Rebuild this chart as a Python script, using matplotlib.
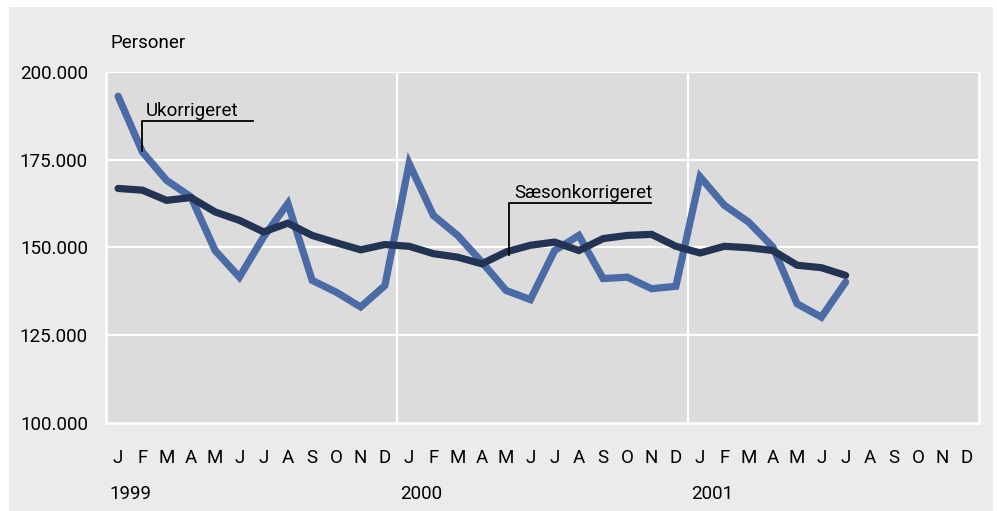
import matplotlib
matplotlib.use("Agg")
import matplotlib.pyplot as plt
from matplotlib.patches import Rectangle
import matplotlib.transforms as mtransforms

months = ["J", "F", "M", "A", "M", "J", "J", "A", "S", "O", "N", "D"] * 3
years = ["1999", "2000", "2001"]
yticks = [100000, 125000, 150000, 175000, 200000]
ytick_labels = ["100.000", "125.000", "150.000", "175.000", "200.000"]

ukorrigeret = [193100, 177200, 169100, 164400, 149100, 141500, 153000, 162500,
               140600, 137200, 133000, 139100,
               173900, 159100, 153400, 145800, 137700, 135100, 149100, 153400,
               141100, 141500, 138200, 138900,
               170100, 162000, 157200, 150100, 133900, 130100, 140100]
saeson = [166800, 166300, 163400, 164200, 160100, 157700, 154400, 156900,
          153400, 151300, 149300, 150800,
          150300, 148200, 147200, 145300, 148700, 150600, 151500, 149100,
          152500, 153400, 153700, 150300,
          148400, 150300, 149900, 149100, 144900, 144200, 142000]

W, H = 997, 511
FONT = ["Roboto", "Open Sans", "DejaVu Sans"]
plt.rcParams['font.family'] = FONT
FS = 13.5

fig = plt.figure(figsize=(W / 100, H / 100), dpi=100, facecolor="white")
bg = Rectangle((9 / W, 0), (993 - 9) / W, 1 - 7 / H,
               transform=fig.transFigure, facecolor="#ebebeb",
               edgecolor="none", zorder=-10)
fig.add_artist(bg)

ax = fig.add_axes([106 / W, 1 - 422.7 / H, (979 - 106) / W, (422.7 - 72) / H])
ax.set_zorder(1)
ax.set_facecolor("#dcdcdc")
ax.set_xlim(-0.5, 35.5)
ax.set_ylim(100000, 200000)

for y in yticks[1:]:
    ax.axhline(y, color="white", lw=1.6, zorder=1)
for xv in [11.5, 23.5]:
    ax.axvline(xv, color="white", lw=1.6, zorder=1)

for s in ["left", "bottom", "right"]:
    ax.spines[s].set_color("white")
    ax.spines[s].set_linewidth(1.8)
ax.spines["top"].set_visible(False)

x = list(range(len(ukorrigeret)))
ax.plot(x, ukorrigeret, color="#4b6ba6", lw=5.2, solid_joinstyle="miter",
        solid_capstyle="round", zorder=3)
ax.plot(x, saeson, color="#233353", lw=5.2, solid_joinstyle="miter",
        solid_capstyle="round", zorder=4)

ax.set_yticks(yticks)
ax.set_yticklabels(ytick_labels, fontsize=FS, color="black")
ax.set_xticks(range(36))
ax.set_xticklabels(months, fontsize=FS, color="black")
ax.tick_params(axis="both", length=0)
ax.tick_params(axis="y", pad=13)
ax.tick_params(axis="x", pad=19)

trans = mtransforms.blended_transform_factory(ax.transData, fig.transFigure)
for i, yr in enumerate(years):
    ax.text(i * 12 - 0.36, 1 - 494 / H, yr, transform=trans, fontsize=FS,
            ha="left", va="center")

fig.text(111 / W, 1 - 43 / H, "Personer", fontsize=FS, ha="left", va="center")

# annotations
ax.plot([1, 1, 5.57], [177500, 186000, 186000], color="black", lw=1.3, zorder=5)
ax.text(1.15, 186300, "Ukorrigeret", fontsize=FS, ha="left", va="bottom", zorder=5)
ax.plot([16.12, 16.12, 21.98], [147700, 162600, 162600], color="black", lw=1.3, zorder=5)
ax.text(16.33, 162900, "Sæsonkorrigeret", fontsize=FS, ha="left", va="bottom", zorder=5)

fig.savefig("out.png", dpi=100, facecolor="white")
